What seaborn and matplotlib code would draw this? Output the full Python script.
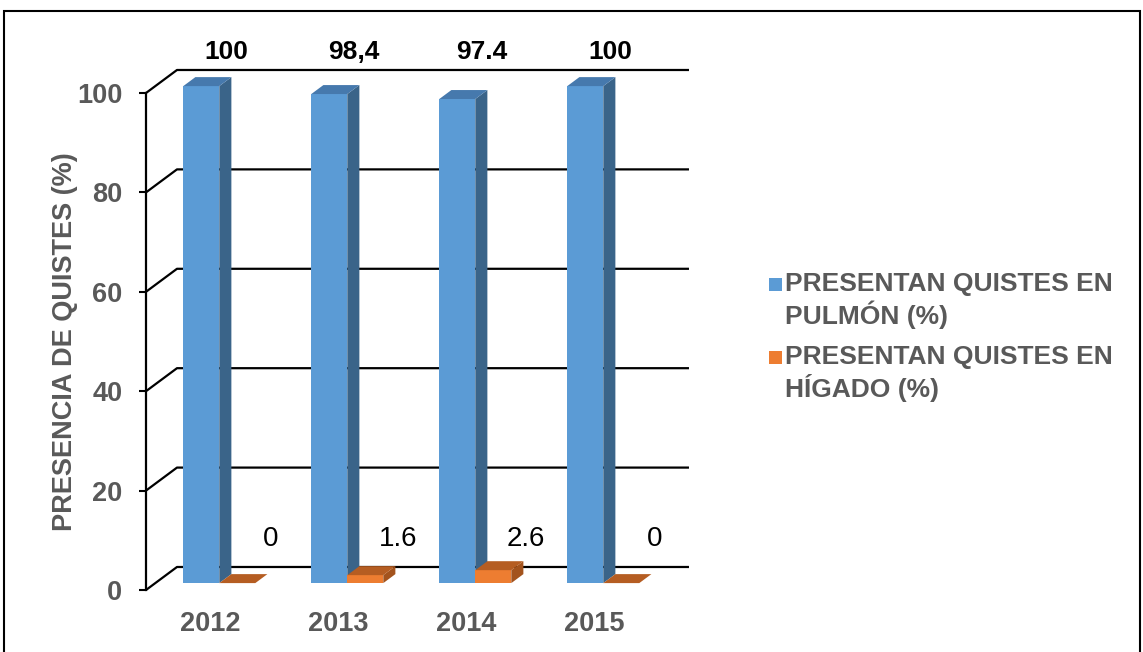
import pandas as pd
import matplotlib
matplotlib.use('Agg')
import matplotlib.pyplot as plt
from matplotlib.patches import Polygon, Rectangle
import seaborn as sns

# Data
years = ['2012', '2013', '2014', '2015']
series = ['PRESENTAN QUISTES EN\nPULMÓN (%)', 'PRESENTAN QUISTES EN\nHÍGADO (%)']
pulmon = [100, 98.4, 97.4, 100]
higado = [0, 1.6, 2.6, 0]
pulmon_labels = ['100', '98,4', '97.4', '100']
higado_labels = ['0', '1.6', '2.6', '0']
yticks = [0, 20, 40, 60, 80, 100]

df = pd.DataFrame({
    'Año': years * 2,
    'Valor': pulmon + higado,
    'Serie': [series[0]] * len(years) + [series[1]] * len(years),
})

# front, top, side colours
colors = {series[0]: ('#5B9BD5', '#4679AD', '#3A6489'),
          series[1]: ('#ED7D31', '#B55D22', '#A3531D')}
gray = '#595959'

sns.set_style('white')
plt.rcParams['font.family'] = ['Liberation Sans', 'DejaVu Sans']

W, H = 1143, 652
fig = plt.figure(figsize=(W / 100, H / 100), dpi=100)
ax = fig.add_axes([146 / W, 62 / H, 512 / W, 497 / H])

sns.barplot(data=df, x='Año', y='Valor', hue='Serie',
            palette={s: c[0] for s, c in colors.items()},
            width=0.5625, saturation=1, legend=False, ax=ax)

ax.set_xlim(-0.5, 3.5)
ax.set_ylim(0, 100)

# fake 3D: wall depth and bar placement inside it
DX, DY = 0.242, 4.63
f0, fd = 0.30, 0.39
bx, by = fd * DX, fd * DY

front_to_series = {matplotlib.colors.to_hex(c[0]): s for s, c in colors.items()}
for p in list(ax.patches):
    s = front_to_series.get(matplotlib.colors.to_hex(p.get_facecolor()))
    if s is None:
        continue
    z = 3 if s == series[0] else 4
    x0 = p.get_x() + f0 * DX
    x1 = x0 + p.get_width()
    y0 = f0 * DY
    h = p.get_height()
    p.set_x(x0)
    p.set_y(y0)
    p.set_linewidth(0)
    p.set_zorder(z)
    p.set_clip_on(False)
    side = Polygon([(x1, y0), (x1 + bx, y0 + by), (x1 + bx, y0 + h + by), (x1, y0 + h)],
                   closed=True, fc=colors[s][2], ec='none', zorder=z, clip_on=False)
    top = Polygon([(x0, y0 + h), (x0 + bx, y0 + h + by), (x1 + bx, y0 + h + by), (x1, y0 + h)],
                  closed=True, fc=colors[s][1], ec='none', zorder=z, clip_on=False)
    ax.add_patch(side)
    ax.add_patch(top)

# back wall grid lines with side diagonals
xl, xr = ax.get_xlim()
for v in yticks:
    ax.plot([xl, xl + DX, xr + DX], [v, v + DY, v + DY], color='black', lw=1.6,
            clip_on=False, zorder=1, solid_capstyle='butt')

# value labels
for i, lab in enumerate(pulmon_labels):
    ax.text(i + 0.125, 108.2, lab, ha='center', va='center', fontsize=19,
            fontweight='bold', color='black', clip_on=False)
for i, lab in enumerate(higado_labels):
    ax.text(i + 0.47, 10.3, lab, ha='center', va='center', fontsize=20,
            color='black', clip_on=False)

# axes styling
sns.despine(ax=ax, top=True, right=True, bottom=True, left=False)
ax.spines['left'].set_color('black')
ax.spines['left'].set_linewidth(1.6)
ax.set_yticks(yticks)
ax.tick_params(axis='y', left=True, length=5, width=1.5, color='black',
               labelsize=19.5, labelcolor=gray, pad=12)
ax.tick_params(axis='x', bottom=False, length=0, labelsize=19.5,
               labelcolor=gray, pad=15)
for t in ax.get_yticklabels() + ax.get_xticklabels():
    t.set_fontweight('bold')
ax.set_xlabel('')
ax.set_ylabel('PRESENCIA DE QUISTES (%)', fontsize=19.5, fontweight='bold', color=gray)
ax.yaxis.set_label_coords(-0.133, 0.5)
ax.grid(False)

# legend
entry_y = [284, 357]
for s, yc in zip(series, entry_y):
    fig.add_artist(Rectangle((769 / W, (H - yc - 7) / H), 13 / W, 13 / H,
                             transform=fig.transFigure, fc=colors[s][0], ec='none'))
    for k, line in enumerate(s.split('\n')):
        fig.text(785 / W, (H - yc - 31 * k) / H, line, ha='left', va='center',
                 fontsize=19, fontweight='bold', color=gray)

# outer frame
fig.add_artist(Rectangle((4 / W, -0.05), 1136 / W, (H - 11) / H + 0.05,
                         transform=fig.transFigure, fill=False, ec='black', lw=1.5))

fig.savefig('out.png', dpi=100)
